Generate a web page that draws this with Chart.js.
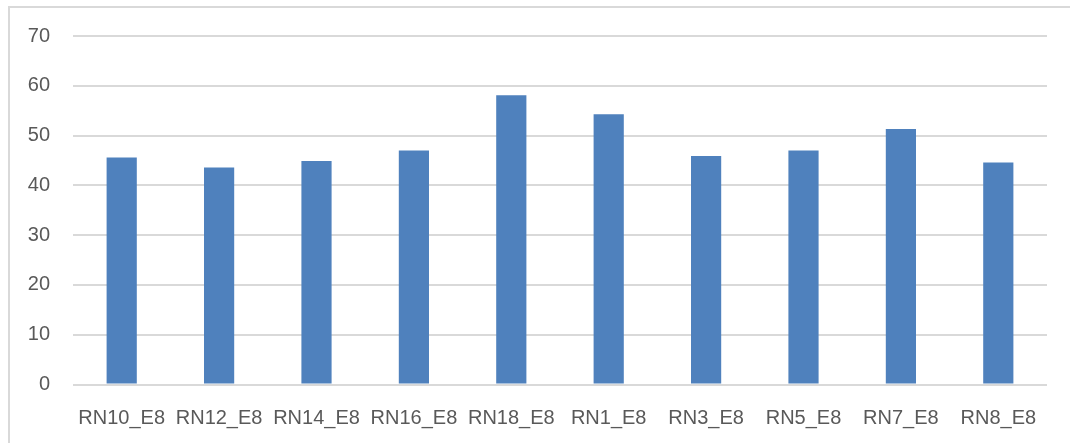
<!DOCTYPE html>
<html>
<head>
<meta charset="utf-8">
<script src="https://cdn.jsdelivr.net/npm/chart.js@4/dist/chart.umd.min.js"></script>
<style>
  html, body { margin: 0; padding: 0; background: #fff; overflow: hidden; }
  #wrap { position: relative; width: 1070px; height: 443px; }
  #frame {
    position: absolute; left: 8px; top: 6px; width: 1100px; height: 500px;
    border-left: 2px solid #D9D9D9; border-top: 2px solid #D9D9D9;
    box-sizing: border-box; pointer-events: none;
  }
  canvas { position: absolute; left: 0; top: 0; }
</style>
</head>
<body>
<div id="wrap">
  <div id="frame"></div>
  <canvas id="chart" width="1070" height="443"></canvas>
</div>
<script>
// Sample names along the x axis
const categories = ['RN10_E8', 'RN12_E8', 'RN14_E8', 'RN16_E8', 'RN18_E8',
                    'RN1_E8', 'RN3_E8', 'RN5_E8', 'RN7_E8', 'RN8_E8'];
// Measured value per sample
const values = [45.6, 43.6, 44.9, 47.0, 58.1, 54.3, 45.9, 47.0, 51.3, 44.6];
// Value axis range and step
const yMin = 0;
const yMax = 70;
const yStep = 10;

const textColor = '#595959';
const gridColor = '#D9D9D9';
const barColor = '#4F81BD';
const fontFamily = '"Liberation Sans", Arial, sans-serif';

new Chart(document.getElementById('chart'), {
  type: 'bar',
  data: {
    labels: categories,
    datasets: [{
      data: values,
      backgroundColor: barColor,
      borderWidth: 0,
      categoryPercentage: 1.0,
      barPercentage: 0.31
    }]
  },
  options: {
    responsive: false,
    animation: false,
    events: [],
    layout: { padding: { left: 0, right: 23, top: 36, bottom: 0 } },
    plugins: { legend: { display: false }, tooltip: { enabled: false } },
    scales: {
      x: {
        grid: { display: false },
        border: { display: false },
        ticks: {
          color: textColor,
          font: { family: fontFamily, size: 20 },
          padding: 14,
          maxRotation: 0,
          autoSkip: false
        },
        afterFit: (s) => { s.height = 58.5; }
      },
      y: {
        min: yMin,
        max: yMax,
        grid: { color: gridColor, lineWidth: 2, drawTicks: false },
        border: { display: false },
        ticks: {
          stepSize: yStep,
          color: textColor,
          font: { family: fontFamily, size: 20 },
          padding: 23
        },
        afterFit: (s) => { s.width = 73; }
      }
    }
  }
});
</script>
</body>
</html>
